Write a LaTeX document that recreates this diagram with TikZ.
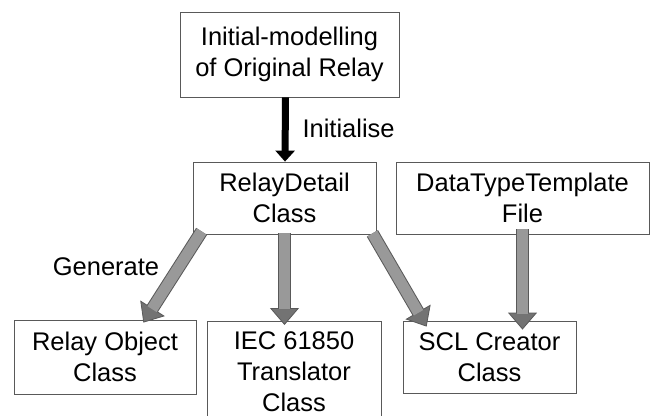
\documentclass[tikz,border=0pt]{standalone}
\usepackage{fontspec}
\setmainfont{Liberation Sans}
\usetikzlibrary{arrows.meta}
\begin{document}
\begin{tikzpicture}[x=1pt, y=-1pt,
    box/.style={draw=black!65, line width=0.8pt, align=center, inner sep=0pt,
        font=\fontsize{25.5}{31}\selectfont},
    fatarrow/.style={draw=black!65, line width=13pt,
        -{Triangle[width=29pt, length=17pt, line width=0.8pt, fill=black!55]},
        postaction={draw=gray!80, line width=11pt, arrows=-, shorten >=16pt}}]
    \clip (0,0) rectangle (650,415);
    \useasboundingbox (0,0) rectangle (650,415);

    % Top box
    \node[box, minimum width=219pt, minimum height=85pt] at (289.5,54.5) (init) {Initial-modelling\\of Original Relay};

    % Second row
    \node[box, minimum width=183pt, minimum height=72pt] at (284.5,198) (rd) {RelayDetail\\Class};
    \node[box, minimum width=253pt, minimum height=72pt] at (522.5,198) (dtt) {DataTypeTemplate\\File};

    % Bottom row
    \node[box, minimum width=182pt, minimum height=74pt] at (105,357) (ro) {Relay Object\\Class};
    \node[box, minimum width=174pt, minimum height=100pt, anchor=north] at (294,321) (iec) {IEC 61850\\Translator\\Class};
    \node[box, minimum width=173pt, minimum height=72pt] at (489.5,357) (scl) {SCL Creator\\Class};

    % Initialise arrow
    \draw[line width=7pt, -{Triangle[width=19pt, length=11pt]}] ([xshift=-4pt]init.south) -- ([xshift=0.5pt]rd.north);
    \node[anchor=west, font=\fontsize{25.5}{31}\selectfont] at (299,128) (initlbl) {Initialise};

    % Generate arrows
    \draw[fatarrow] ([xshift=9pt, yshift=3pt]rd.south west) -- ([xshift=-53pt, yshift=-3pt]ro.north east);
    \draw[fatarrow] ([yshift=1pt]rd.south) -- ([yshift=-4pt]rd.south |- iec.north);
    \draw[fatarrow] ([xshift=-4pt, yshift=1pt]rd.south east) -- ([xshift=24pt, yshift=-6pt]scl.north west);
    \draw[fatarrow] ([yshift=5pt]dtt.south) -- ([yshift=-9pt]dtt.south |- scl.north);
    \node[font=\fontsize{25.5}{31}\selectfont] at (106,267) (genlbl) {Generate};
\end{tikzpicture}
\end{document}
